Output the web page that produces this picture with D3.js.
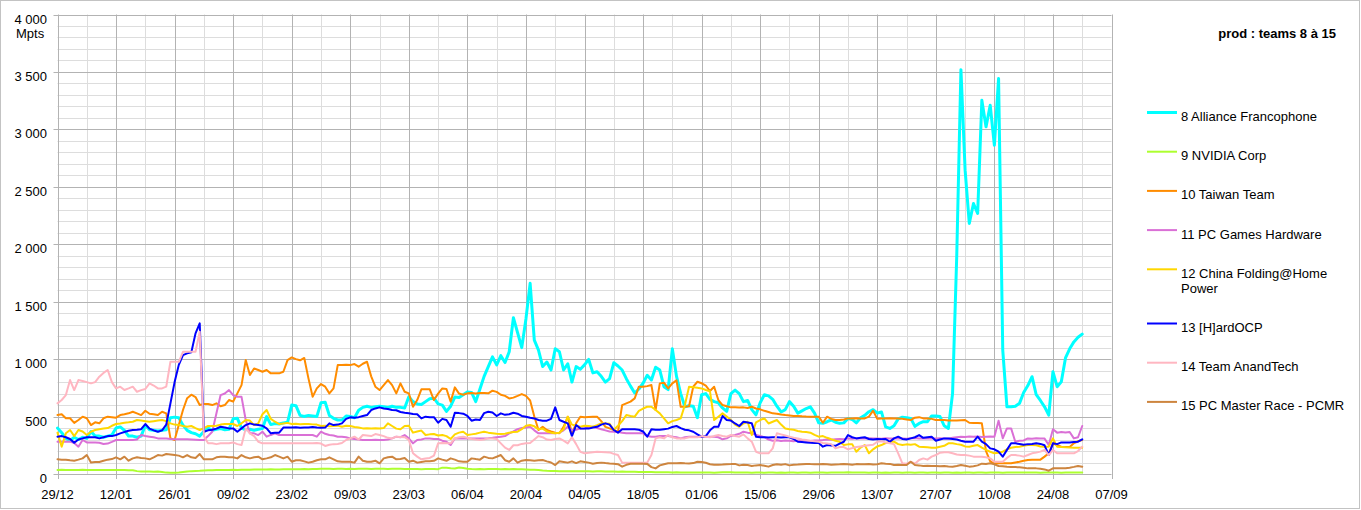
<!DOCTYPE html>
<html>
<head>
<meta charset="utf-8">
<script src="https://cdn.jsdelivr.net/npm/d3@7"></script>
<style>
  body { margin: 0; background: #fff; }
  svg { display: block; font-family: "Liberation Sans", Arial, sans-serif; }
</style>
</head>
<body>
<svg id="chart" width="1361" height="510"></svg>
<script>
// ---------------- DATA ----------------
const startDate = "2018-12-29";   // first daily value
const endDate = "2019-09-07";     // end of the x axis
const chartTitle = "prod : teams 8 à 15";
const yUnit = "Mpts";
const yTickValues = [0, 500, 1000, 1500, 2000, 2500, 3000, 3500, 4000];

const seriesNames = [
  "8 Alliance Francophone", "9 NVIDIA Corp", "10 Taiwan Team", "11 PC Games Hardware",
  "12 China Folding@Home Power", "13 [H]ardOCP", "14 Team AnandTech", "15 PC Master Race - PCMR"
];
const seriesColors = ["#00ffff", "#adff2f", "#ff8c00", "#da70d6", "#ffd700", "#0000ff", "#ffb6c1", "#cd853f"];

// daily production (Mpts), 29/12 .. 31/08, one row = 14 days
const alliance = [
  400, 360, 310, 290, 320, 300, 320, 310, 370, 330, 330, 320, 330, 340,
  400, 410, 380, 330, 330, 320, 330, 425, 385, 380, 375, 380, 385, 490,
  495, 490, 425, 380, 360, 350, 330, 370, 400, 380, 390, 395, 385, 390,
  480, 485, 400, 385, 390, 380, 390, 395, 500, 430, 440, 435, 445, 450,
  600, 595, 510, 500, 510, 505, 500, 620, 625, 510, 485, 470, 470, 505,
  500, 490, 555, 580, 590, 580, 585, 590, 585, 580, 590, 580, 580, 575,
  672, 630, 610, 605, 630, 655, 660, 610, 600, 545, 590, 670, 665, 690,
  715, 710, 630, 740, 850, 935, 1020, 950, 1030, 970, 1064, 1360, 1230, 1100,
  1350, 1660, 1166, 1079, 935, 975, 905, 1090, 1064, 905, 960, 800, 935, 912,
  950, 998, 880, 890, 850, 800, 830, 968, 940, 905, 830, 765, 705, 740,
  790, 860, 818, 930, 905, 760, 735, 1090, 850, 700, 585, 595, 590, 490,
  690, 700, 650, 630, 620, 575, 545, 700, 730, 700, 630, 640, 560, 515,
  620, 690, 680, 650, 590, 540, 560, 630, 590, 530, 550, 570, 585, 530,
  445, 441, 455, 470, 450, 441, 445, 484, 475, 445, 490, 510, 542, 560,
  530, 540, 410, 397, 420, 480, 495, 490, 484, 415, 440, 455, 455, 505,
  505, 500, 420, 397, 700, 1900, 3520, 2645, 2181, 2355, 2268, 3254, 3022, 3210,
  2862, 3442, 1079, 585, 585, 590, 615, 710, 770, 847, 690, 640, 585, 513,
  890, 760, 803, 1010, 1090, 1150, 1190, 1218
];
const nvidia = [
  35, 36, 35, 35, 34, 35, 36, 35, 34, 35, 35, 35, 34, 35,
  35, 34, 34, 33, 33, 25, 22, 22, 21, 20, 22, 18, 12, 10,
  11, 14, 18, 22, 25, 27, 28, 30, 32, 33, 34, 35, 35, 35,
  36, 35, 36, 37, 38, 40, 40, 39, 40, 41, 40, 40, 41, 42,
  42, 41, 42, 43, 42, 44, 43, 45, 46, 45, 44, 45, 46, 44,
  45, 44, 45, 46, 45, 44, 45, 46, 45, 44, 45, 46, 45, 44,
  43, 44, 43, 42, 43, 44, 43, 42, 55, 55, 50, 48, 56, 52,
  45, 43, 42, 43, 42, 43, 44, 43, 42, 43, 42, 43, 42, 41,
  40, 38, 36, 34, 30, 28, 27, 26, 25, 24, 25, 24, 23, 24,
  24, 23, 22, 24, 23, 22, 21, 22, 20, 21, 20, 19, 20, 18,
  18, 17, 18, 16, 15, 16, 15, 14, 15, 14, 13, 14, 13, 12,
  12, 13, 12, 11, 14, 15, 16, 15, 14, 13, 12, 12, 11, 12,
  12, 11, 12, 12, 11, 12, 11, 12, 12, 11, 12, 12, 11, 12,
  12, 12, 11, 12, 12, 13, 14, 15, 14, 13, 12, 12, 11, 12,
  12, 11, 12, 11, 12, 12, 11, 12, 12, 11, 12, 12, 11, 12,
  12, 11, 12, 12, 11, 12, 11, 12, 12, 11, 12, 12, 11, 12,
  12, 12, 11, 12, 12, 13, 14, 14, 13, 12, 12, 11, 12, 12,
  12, 12, 11, 12, 12, 12, 13, 14
];
const taiwan = [
  513, 520, 485, 485, 445, 470, 499, 485, 426, 450, 441, 485, 499, 495,
  490, 513, 520, 528, 542, 528, 513, 551, 525, 520, 513, 542, 528, 310,
  296, 426, 557, 660, 690, 670, 600, 610, 609, 600, 615, 590, 600, 644,
  630, 702, 774, 992, 861, 919, 905, 890, 905, 876, 876, 876, 890, 992,
  1015, 1000, 990, 1010, 832, 672, 745, 783, 760, 702, 745, 948, 948, 950,
  948, 957, 934, 960, 977, 850, 760, 731, 774, 818, 774, 702, 789, 716,
  702, 585, 644, 737, 737, 737, 644, 700, 745, 740, 629, 754, 700, 690,
  702, 705, 700, 705, 705, 702, 725, 715, 690, 680, 658, 665, 680, 696,
  680, 640, 500, 383, 411, 383, 370, 360, 354, 411, 499, 354, 441, 499,
  495, 497, 499, 499, 460, 410, 397, 383, 368, 600, 615, 630, 658, 760,
  760, 765, 774, 557, 789, 795, 745, 789, 815, 585, 585, 590, 760, 803,
  790, 770, 722, 760, 644, 600, 590, 580, 580, 578, 580, 575, 585, 570,
  563, 550, 540, 528, 525, 518, 513, 510, 505, 505, 502, 500, 499, 499,
  499, 446, 499, 480, 470, 470, 475, 484, 484, 486, 484, 484, 500, 551,
  480, 484, 484, 485, 484, 484, 480, 475, 470, 490, 495, 484, 484, 480,
  470, 470, 470, 465, 465, 465, 468, 470, 446, 445, 443, 441, 200, 110,
  93, 93, 93, 93, 93, 100, 107, 115, 122, 123, 124, 125, 151, 180,
  267, 250, 238, 236, 235, 267, 285, 296
];
const pcgh = [
  281, 281, 280, 282, 270, 238, 296, 275, 275, 275, 272, 261, 265, 280,
  296, 296, 296, 296, 296, 300, 339, 330, 325, 320, 310, 310, 310, 305,
  302, 302, 302, 302, 300, 298, 296, 296, 330, 368, 528, 687, 701, 731,
  687, 672, 672, 470, 354, 354, 339, 368, 325, 340, 354, 339, 339, 339,
  339, 339, 339, 339, 339, 339, 325, 368, 350, 339, 335, 325, 325, 320,
  310, 305, 300, 296, 296, 296, 298, 296, 296, 300, 310, 325, 320, 339,
  310, 267, 296, 300, 310, 310, 305, 305, 290, 281, 252, 310, 310, 310,
  310, 310, 310, 310, 310, 312, 315, 320, 325, 330, 354, 370, 390, 400,
  405, 411, 380, 354, 354, 354, 354, 354, 360, 380, 411, 380, 385, 397,
  397, 405, 411, 400, 390, 380, 370, 368, 365, 360, 354, 354, 354, 354,
  354, 330, 325, 325, 330, 330, 330, 325, 320, 310, 320, 325, 325, 325,
  325, 325, 325, 325, 320, 302, 310, 331, 340, 350, 368, 360, 355, 340,
  331, 320, 300, 290, 294, 288, 292, 290, 286, 292, 295, 290, 288, 292,
  292, 295, 300, 298, 302, 305, 303, 310, 307, 312, 310, 308, 312, 310,
  310, 307, 312, 310, 308, 312, 310, 306, 311, 314, 310, 308, 312, 310,
  308, 312, 310, 307, 315, 320, 325, 322, 326, 324, 327, 323, 325, 326,
  325, 464, 310, 397, 397, 281, 290, 292, 310, 307, 312, 310, 308, 252,
  389, 360, 365, 362, 366, 310, 320, 418
];
const china = [
  360, 238, 354, 383, 330, 383, 370, 339, 368, 383, 390, 397, 400, 420,
  435, 440, 446, 450, 455, 470, 465, 460, 455, 460, 465, 470, 460, 441,
  430, 426, 418, 411, 418, 400, 383, 400, 418, 418, 420, 430, 435, 435,
  435, 418, 441, 470, 465, 426, 441, 520, 557, 480, 455, 435, 440, 445,
  435, 438, 433, 436, 435, 432, 430, 418, 420, 416, 418, 421, 411, 420,
  418, 410, 405, 397, 399, 396, 398, 397, 400, 441, 418, 395, 389, 418,
  420, 360, 370, 378, 340, 345, 348, 335, 340, 330, 305, 345, 360, 368,
  340, 345, 350, 360, 368, 360, 355, 350, 348, 350, 360, 365, 368, 390,
  420, 426, 415, 389, 395, 370, 360, 354, 360, 390, 499, 430, 420, 411,
  420, 418, 411, 425, 441, 440, 438, 383, 420, 460, 513, 505, 499, 550,
  570, 585, 585, 557, 528, 484, 441, 460, 470, 484, 600, 760, 755, 750,
  745, 731, 720, 470, 499, 528, 500, 470, 430, 411, 440, 455, 339, 450,
  470, 484, 440, 455, 470, 430, 397, 390, 385, 375, 368, 365, 360, 340,
  325, 330, 315, 302, 290, 280, 252, 258, 260, 194, 230, 252, 180, 215,
  240, 252, 270, 281, 281, 260, 252, 258, 255, 260, 238, 235, 232, 229,
  229, 238, 245, 267, 267, 260, 255, 240, 238, 245, 252, 229, 210, 194,
  180, 185, 194, 215, 229, 235, 238, 245, 252, 252, 250, 240, 238, 238,
  310, 238, 235, 232, 230, 229, 229, 229
];
const hardocp = [
  325, 330, 320, 305, 272, 300, 310, 320, 320, 320, 310, 320, 330, 330,
  340, 354, 365, 377, 383, 385, 390, 435, 395, 380, 368, 380, 430, 615,
  800, 950, 1035, 1050, 1060, 1224, 1311, 368, 380, 385, 395, 411, 405, 397,
  397, 368, 397, 426, 441, 430, 426, 420, 397, 354, 360, 360, 404, 404,
  404, 406, 402, 404, 405, 410, 404, 402, 404, 441, 426, 430, 441, 480,
  493, 490, 495, 505, 513, 557, 571, 580, 571, 565, 557, 555, 540, 533,
  528, 522, 520, 484, 499, 495, 495, 446, 480, 470, 411, 533, 530, 525,
  505, 464, 475, 470, 530, 542, 535, 505, 528, 515, 520, 533, 525, 505,
  499, 490, 484, 470, 464, 464, 480, 580, 470, 455, 441, 330, 426, 397,
  395, 395, 405, 411, 430, 441, 430, 383, 360, 389, 389, 389, 389, 385,
  370, 325, 389, 385, 385, 390, 395, 410, 418, 400, 385, 380, 368, 345,
  325, 330, 380, 411, 411, 505, 470, 465, 440, 418, 455, 448, 441, 325,
  319, 321, 318, 320, 319, 317, 320, 319, 305, 281, 278, 275, 272, 270,
  270, 238, 252, 248, 245, 265, 281, 339, 320, 310, 315, 320, 305, 300,
  305, 302, 305, 281, 310, 325, 305, 300, 310, 320, 339, 315, 320, 325,
  290, 300, 310, 308, 305, 300, 290, 281, 281, 281, 325, 281, 260, 223,
  215, 194, 151, 210, 267, 267, 262, 255, 260, 262, 267, 262, 250, 165,
  267, 260, 275, 275, 275, 278, 281, 302
];
const anandtech = [
  615, 644, 687, 818, 731, 818, 810, 800, 789, 800, 847, 880, 905, 800,
  745, 760, 731, 745, 760, 716, 730, 740, 789, 770, 745, 745, 760, 977,
  977, 977, 1064, 1064, 1064, 1064, 1238, 330, 267, 267, 260, 267, 267, 267,
  275, 260, 252, 397, 354, 330, 281, 267, 267, 267, 267, 267, 267, 267,
  267, 267, 267, 267, 267, 267, 270, 265, 244, 255, 260, 262, 270, 296,
  310, 325, 300, 339, 335, 330, 348, 340, 330, 315, 310, 325, 322, 320,
  296, 180, 151, 128, 135, 140, 160, 267, 270, 268, 267, 310, 320, 325,
  315, 305, 300, 296, 300, 310, 310, 305, 267, 230, 209, 250, 250, 262,
  267, 270, 300, 330, 320, 300, 296, 305, 310, 290, 267, 320, 260, 194,
  180, 185, 190, 194, 192, 190, 188, 175, 165, 99, 99, 99, 99, 99,
  99, 99, 165, 310, 320, 310, 339, 320, 310, 310, 310, 320, 320, 320,
  330, 325, 320, 330, 339, 330, 325, 339, 330, 325, 345, 310, 281, 194,
  180, 180, 180, 223, 354, 345, 335, 325, 315, 310, 300, 295, 290, 285,
  281, 270, 265, 260, 223, 235, 235, 215, 225, 235, 240, 245, 250, 255,
  281, 285, 275, 267, 260, 180, 93, 90, 107, 90, 122, 136, 125, 151,
  165, 186, 190, 190, 180, 170, 165, 165, 160, 151, 151, 151, 145, 136,
  107, 107, 107, 140, 165, 165, 160, 151, 165, 180, 186, 195, 209, 165,
  209, 180, 180, 180, 180, 180, 200, 238
];
const pcmr = [
  128, 125, 125, 120, 116, 125, 136, 165, 101, 105, 105, 115, 125, 130,
  145, 128, 151, 116, 136, 145, 140, 136, 128, 145, 165, 160, 174, 170,
  165, 160, 145, 165, 145, 140, 174, 128, 128, 128, 145, 151, 150, 145,
  145, 136, 165, 145, 136, 145, 151, 128, 136, 145, 165, 151, 136, 151,
  107, 120, 120, 110, 99, 107, 120, 128, 128, 145, 128, 110, 107, 107,
  107, 99, 151, 116, 107, 107, 116, 93, 136, 145, 151, 128, 130, 140,
  107, 116, 99, 105, 110, 110, 115, 136, 125, 115, 136, 125, 110, 107,
  107, 136, 130, 125, 151, 140, 136, 150, 165, 120, 107, 136, 99, 116,
  122, 120, 116, 120, 122, 110, 100, 78, 110, 105, 99, 110, 95, 110,
  105, 99, 90, 95, 99, 95, 92, 90, 85, 64, 80, 90, 90, 90,
  90, 88, 60, 49, 75, 85, 93, 93, 93, 95, 93, 92, 95, 107,
  105, 98, 85, 80, 80, 82, 85, 86, 88, 75, 80, 78, 70, 75,
  78, 72, 64, 78, 85, 80, 86, 75, 80, 82, 85, 88, 86, 85,
  85, 86, 85, 80, 82, 84, 88, 85, 80, 86, 84, 85, 88, 82,
  85, 93, 90, 88, 78, 80, 78, 78, 107, 78, 75, 70, 72, 70,
  70, 68, 70, 66, 64, 70, 78, 72, 64, 68, 75, 90, 88, 93,
  85, 70, 68, 64, 62, 60, 58, 55, 49, 50, 49, 45, 40, 29,
  49, 50, 49, 50, 55, 62, 70, 64
];
const seriesValues = [alliance, nvidia, taiwan, pcgh, china, hardocp, anandtech, pcmr];

// ---------------- CHART ----------------
const plot = { left: 57.5, right: 1111.5, top: 14.5, bottom: 474 };
const parse = d3.timeParse("%Y-%m-%d");
const t0 = parse(startDate), t1 = parse(endDate);
const dates = d3.range(alliance.length).map(i => d3.timeDay.offset(t0, i));

const x = d3.scaleTime().domain([t0, t1]).range([plot.left, plot.right]);
const y = d3.scaleLinear().domain([0, 4000]).range([plot.bottom, plot.top]);

const nf = d3.formatLocale({ decimal: ",", thousands: " ", grouping: [3], currency: ["", ""] }).format(",d");
const df = d3.timeFormat("%d/%m");

const svg = d3.select("#chart");
svg.append("rect").attr("x", 0.5).attr("y", 0.5).attr("width", 1359).attr("height", 508)
  .attr("fill", "#fff").attr("stroke", "#c3c3c3");

const px = v => Math.round(v) + 0.5;
const nWeeks = Math.round((t1 - t0) / (7 * 864e5));
const weekDates = d3.range(0, nWeeks + 1).map(i => d3.timeDay.offset(t0, 7 * i));
const majorX = weekDates.filter((d, i) => i % 2 === 0);
const minorX = weekDates.filter((d, i) => i % 2 === 1);
const minorY = d3.range(0, 4001, 100).filter(v => v % 500 !== 0);

const grid = svg.append("g");
grid.selectAll(".my").data(minorY).join("line")
  .attr("x1", plot.left).attr("x2", plot.right)
  .attr("y1", d => px(y(d))).attr("y2", d => px(y(d)))
  .attr("stroke", "#dddddd").attr("stroke-width", 1);
grid.selectAll(".mx").data(minorX).join("line")
  .attr("x1", d => px(x(d))).attr("x2", d => px(x(d)))
  .attr("y1", plot.top).attr("y2", plot.bottom)
  .attr("stroke", "#dddddd").attr("stroke-width", 1);
grid.selectAll(".My").data(yTickValues).join("line")
  .attr("x1", plot.left - 4).attr("x2", plot.right)
  .attr("y1", d => px(y(d))).attr("y2", d => px(y(d)))
  .attr("stroke", "#b3b3b3").attr("stroke-width", 1);
grid.selectAll(".Mx").data(majorX).join("line")
  .attr("x1", d => px(x(d))).attr("x2", d => px(x(d)))
  .attr("y1", plot.top).attr("y2", plot.bottom + 5)
  .attr("stroke", "#b3b3b3").attr("stroke-width", 1);
// right border
grid.append("line").attr("x1", px(plot.right)).attr("x2", px(plot.right))
  .attr("y1", px(y(4000))).attr("y2", px(y(0))).attr("stroke", "#b3b3b3");

// y labels
svg.append("g").selectAll("text").data(yTickValues).join("text")
  .attr("x", 47).attr("y", d => y(d) + 9)
  .attr("text-anchor", "end").attr("font-size", 13).attr("fill", "#000")
  .text(d => nf(d));
svg.append("text").attr("x", 16).attr("y", 37.5).attr("font-size", 13).attr("fill", "#000").text(yUnit);

// x labels
svg.append("g").selectAll("text").data(majorX).join("text")
  .attr("x", d => x(d)).attr("y", 499)
  .attr("text-anchor", "middle").attr("font-size", 13).attr("fill", "#000")
  .text(d => df(d));

// series lines
const line = d3.line().x((d, i) => x(dates[i])).y(d => y(d)).curve(d3.curveLinear);
const lines = svg.append("g").attr("fill", "none").attr("stroke-linejoin", "round").attr("stroke-linecap", "round");
seriesValues.forEach((vals, k) => {
  lines.append("path").datum(vals)
    .attr("d", line)
    .attr("stroke", seriesColors[k])
    .attr("stroke-width", k === 0 ? 3 : 2);
});

// title
svg.append("text").attr("x", 1336).attr("y", 37.5).attr("text-anchor", "end")
  .attr("font-size", 13).attr("font-weight", "bold").attr("fill", "#000").text(chartTitle);

// legend
const legend = svg.append("g");
let ly = 112.5;
seriesNames.forEach((name, k) => {
  legend.append("line").attr("x1", 1147).attr("x2", 1177).attr("y1", ly).attr("y2", ly)
    .attr("stroke", seriesColors[k]).attr("stroke-width", k === 0 ? 3 : 2);
  const t = legend.append("text").attr("x", 1181).attr("y", ly + 8.4).attr("font-size", 13).attr("fill", "#000");
  // word wrap at the legend width
  const words = name.split(" ");
  let lineWords = [], lineNo = 0;
  let tspan = t.append("tspan").attr("x", 1181).attr("dy", 0);
  words.forEach(w => {
    lineWords.push(w);
    tspan.text(lineWords.join(" "));
    if (tspan.node().getComputedTextLength() > 170 && lineWords.length > 1) {
      lineWords.pop();
      tspan.text(lineWords.join(" "));
      lineWords = [w];
      lineNo++;
      tspan = t.append("tspan").attr("x", 1181).attr("dy", 15).text(w);
    }
  });
  ly += 39.2 + lineNo * 15;
});
</script>
</body>
</html>
